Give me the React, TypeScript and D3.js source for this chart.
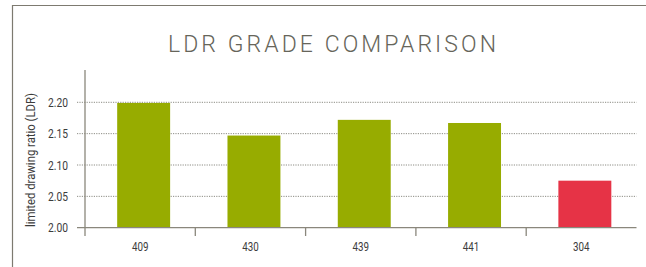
import React from "react";
import * as d3 from "d3";

const categories = ["409", "430", "439", "441", "304"];
const values = [2.199, 2.147, 2.172, 2.167, 2.075];
const barColors = ["#97ac00", "#97ac00", "#97ac00", "#97ac00", "#e63346"];
const yTicks = [2.0, 2.05, 2.1, 2.15, 2.2];

const W = 646;
const H = 267;
const FONT = "'Roboto', sans-serif";

export default function App() {
  const x0 = 85;
  const x1 = 636.5;
  const yBase = 227.7;
  const yTop = 102.3;
  const x = d3.scaleBand<string>().domain(categories).range([x0, x1]).paddingInner(0.52).paddingOuter(0.26);
  const xb = d3.scaleBand<string>().domain(categories).range([x0, x1]);
  const y = d3.scaleLinear().domain([2.0, 2.2]).range([yBase, yTop]);
  const shift = 3.5;

  return (
    <svg width={W} height={H} style={{ position: "absolute", left: 0, top: 0, background: "#fff" }}>
      {/* frame */}
      <line x1={12.5} y1={5.5} x2={646} y2={5.5} stroke="#7d7a70" strokeWidth={1.2} />
      <line x1={12.5} y1={5} x2={12.5} y2={267} stroke="#7d7a70" strokeWidth={1.2} />

      <text x={332} y={51.5} textAnchor="middle" fontFamily="'Roboto', 'DejaVu Sans', sans-serif" fontWeight={300} fontSize={23} fill="#66655a" textLength={328} lengthAdjust="spacing">
        LDR GRADE COMPARISON
      </text>

      {/* grid */}
      {yTicks.filter((t) => t > 2.0).map((t) => (
        <line key={t} x1={77} x2={x1} y1={y(t)} y2={y(t)} stroke="#8c8c84" strokeWidth={1} strokeDasharray="1.2,1.2" />
      ))}

      {/* bars */}
      {categories.map((c, i) => (
        <rect key={c} x={(x(c) as number) + shift} width={x.bandwidth()} y={y(values[i])} height={yBase - y(values[i])} fill={barColors[i]} />
      ))}

      {/* axes */}
      <line x1={x0} x2={x0} y1={70} y2={yBase} stroke="#8a877c" strokeWidth={1.3} />
      <line x1={77} x2={x1} y1={yBase} y2={yBase} stroke="#8a877c" strokeWidth={1.3} />
      {categories.map((c) => (
        <line key={"t" + c} x1={xb(c) as number} x2={xb(c) as number} y1={yBase} y2={236} stroke="#8a877c" strokeWidth={1.3} />
      ))}

      {yTicks.map((t) => (
        <text key={"yl" + t} x={68} y={y(t)} dy="0.36em" textAnchor="end" fontFamily={FONT} fontSize={12.5} fill="#3c3c3c" textLength={20} lengthAdjust="spacingAndGlyphs">
          {d3.format(".2f")(t)}
        </text>
      ))}

      {categories.map((c) => (
        <text key={"xl" + c} x={(xb(c) as number) + xb.bandwidth() / 2} y={250.5} textAnchor="middle" fontFamily={FONT} fontSize={12.5} fill="#3c3c3c" textLength={16.5} lengthAdjust="spacingAndGlyphs">
          {c}
        </text>
      ))}

      <text transform={`translate(34.5,160) rotate(-90)`} textAnchor="middle" fontFamily={FONT} fontSize={12.5} fill="#3c3c3c" textLength={134} lengthAdjust="spacingAndGlyphs">
        limited drawing ratio (LDR)
      </text>
    </svg>
  );
}
